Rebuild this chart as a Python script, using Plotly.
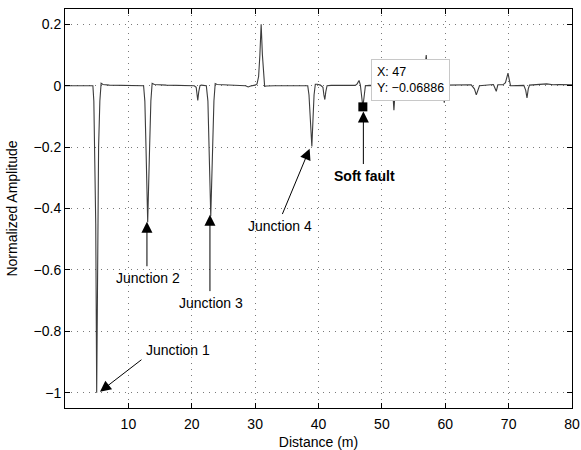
import plotly.graph_objects as go

# reflectogram trace
distance = [0, 2, 4.4, 4.55, 4.7, 4.85, 5.0, 5.15, 5.3, 5.5, 5.7, 6.0, 7.0,
            12.4, 12.6, 12.78, 13.05, 13.35, 13.55, 13.75, 14.1, 16,
            20.4, 20.7, 20.85, 20.95, 21.1, 21.3, 21.5, 22.3, 22.55, 22.75, 23.0, 23.3, 23.5, 23.7, 24.0,
            28.5, 28.9, 29.3, 30.0, 30.3, 30.55, 30.75, 30.95, 31.15, 31.35, 31.5, 31.8, 33, 38.2,
            38.3, 38.5, 38.7, 38.95, 39.15, 39.3, 39.5, 39.8, 40.3, 40.7, 40.85, 41.0, 41.15, 41.35, 42,
            45.8, 46.1, 46.4, 46.6, 46.8, 47.0, 47.2, 47.4, 48,
            51.5, 51.75, 51.9, 52.05, 52.3, 56.5, 56.8, 57.0, 57.2, 57.5,
            59.5, 59.7, 59.85, 60.0, 60.3, 64.1, 64.6, 64.9, 65.2, 65.4,
            67.6, 67.9, 68.05, 68.3, 69.1, 69.5, 69.9, 70.1, 70.3,
            72.4, 72.7, 72.9, 73.1, 73.3, 74.5, 76, 77, 78, 80]
amplitude = [0, 0, 0, -0.05, -0.2, -0.45, -1.0, -0.45, -0.2, -0.05, 0.008, 0.004, 0.002,
             0, -0.05, -0.2, -0.445, -0.2, -0.05, 0.008, 0.004, 0.002,
             0, -0.005, -0.03, -0.048, -0.02, 0, 0.002, 0, -0.05, -0.2, -0.425, -0.2, -0.05, 0.007, 0.004,
             0, -0.004, -0.001, 0.002, 0.006, 0.03, 0.1, 0.2, 0.1, 0.02, -0.002, -0.001, 0, 0,
             0, -0.03, -0.1, -0.198, -0.1, -0.03, 0.005, 0.005, 0.002, -0.005, -0.03, -0.045, -0.02, 0, 0.001,
             0.001, 0.006, 0.017, 0.003, -0.04, -0.06886, -0.035, 0, 0.001,
             0, -0.03, -0.08, -0.03, 0, 0, 0.05, 0.1, 0.04, 0,
             0, -0.03, -0.055, -0.02, 0.002, 0.003, -0.01, -0.03, -0.01, 0.0,
             0.004, -0.01, -0.018, 0.003, 0.003, 0.01, 0.041, 0.02, 0.0,
             0.001, -0.015, -0.04, -0.01, 0.002, 0.003, 0.006, 0.003, 0.004, 0.003]

fault_x = [47]
fault_y = [-0.06886]

xticks = [10, 20, 30, 40, 50, 60, 70, 80]
yticks = [-1, -0.8, -0.6, -0.4, -0.2, 0, 0.2]
yticktext = ['\u22121', '\u22120.8', '\u22120.6', '\u22120.4', '\u22120.2', '0', '0.2']

# (label, text x, text y, arrow tail x, tail y, tip x, tip y)
callouts = [
    ('Junction 1', 17.8, -0.86, 12.3, -0.889, 5.52, -0.997),
    ('Junction 2', 13.1, -0.626, 12.93, -0.593, 12.93, -0.443),
    ('Junction 3', 23.1, -0.707, 22.87, -0.674, 22.87, -0.42),
    ('Junction 4', 34.0, -0.458, 34.2, -0.423, 38.6, -0.205),
    ('<b>Soft fault</b>', 47.3, -0.293, 47.08, -0.26, 47.08, -0.084),
]

font = 'Arial, Liberation Sans, Helvetica, sans-serif'

fig = go.Figure()
fig.add_trace(go.Scatter(x=distance, y=amplitude, mode='lines',
                         line=dict(color='#3c3c3c', width=1.1), showlegend=False))
fig.add_trace(go.Scatter(x=fault_x, y=fault_y, mode='markers',
                         marker=dict(symbol='square', size=9, color='black'), showlegend=False))

annotations = []
for label, tx, ty, ax, ay, hx, hy in callouts:
    annotations.append(dict(x=hx, y=hy, ax=ax, ay=ay, axref='x', ayref='y', xref='x', yref='y',
                            text='', showarrow=True, arrowhead=2, arrowsize=2.2, arrowwidth=1,
                            arrowcolor='black'))
    annotations.append(dict(x=tx, y=ty, xref='x', yref='y', text=label, showarrow=False,
                            font=dict(size=14, color='black', family=font)))

# data tip box
annotations.append(dict(x=48.3, y=0.088, xref='x', yref='y', xanchor='left', yanchor='top',
                        text='X: 47<br>Y: \u22120.06886', showarrow=False, align='left',
                        bgcolor='white', bordercolor='#c8c8c8', borderwidth=1, borderpad=5,
                        font=dict(size=12.5, color='black', family=font)))

fig.update_layout(
    width=581, height=450,
    margin=dict(l=65, r=9, t=9, b=42),
    plot_bgcolor='white', paper_bgcolor='white',
    font=dict(family=font, size=14, color='black'),
    annotations=annotations,
)
grid = dict(showgrid=True, gridcolor='#7a7a7a', griddash='1px,5px', gridwidth=1, zeroline=False)
fig.update_xaxes(range=[0, 80], tickvals=xticks, ticks='inside', ticklen=5, tickcolor='black',
                 showline=True, linecolor='black', linewidth=1, mirror='ticks', ticklabelstandoff=3,
                 automargin=False,
                 title=dict(text='Distance (m)', font=dict(size=14), standoff=6), **grid)
fig.update_yaxes(range=[-1.05, 0.25], tickvals=yticks, ticktext=yticktext, ticks='inside', ticklen=5,
                 tickcolor='black', showline=True, linecolor='black', linewidth=1, mirror='ticks',
                 automargin=False,
                 title=dict(text='Normalized Amplitude', font=dict(size=14), standoff=12), **grid)

fig.write_html("out.html", config={'displayModeBar': False},
               post_script="document.body.style.margin='0';")
